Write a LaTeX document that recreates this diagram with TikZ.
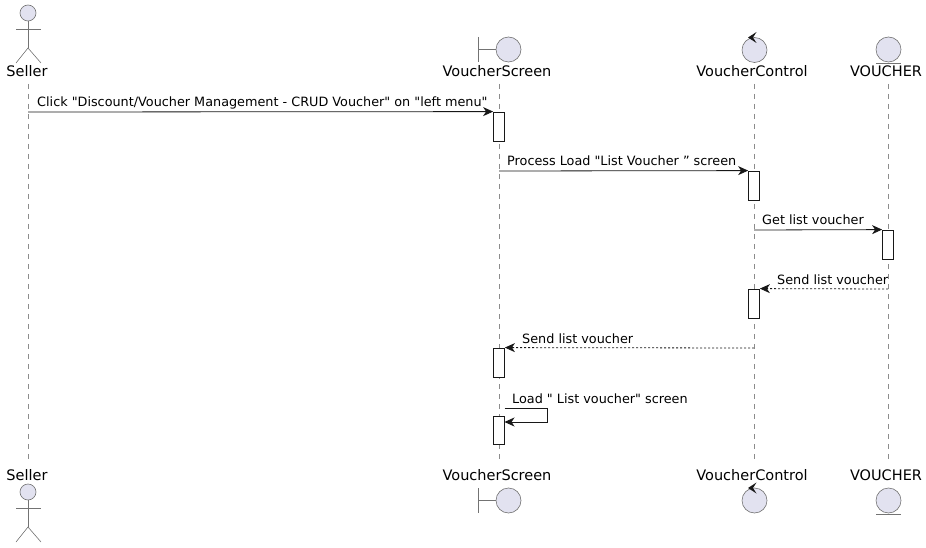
\documentclass[tikz,border=0pt]{standalone}
\usepackage{fontspec}
\newfontfamily\umlfont{DejaVu Sans}
\usetikzlibrary{arrows.meta,positioning}
\definecolor{partfill}{HTML}{E2E2F0}
\definecolor{partline}{HTML}{181818}

\begin{document}
\begin{tikzpicture}[x=1pt,y=-1pt,
    lifeline/.style={draw=gray!90,dash pattern=on 5pt off 5pt,line width=0.5pt},
    figure/.style={draw=gray!90!black,fill=partfill,line width=0.6pt},
    stick/.style={draw=gray!90!black,line width=0.6pt},
    partname/.style={font=\umlfont\fontsize{14.5}{16}\selectfont,inner sep=0pt,anchor=base},
    msglabel/.style={font=\umlfont\fontsize{12.8}{15}\selectfont,inner sep=0pt,anchor=base west},
    activation/.style={draw=partline,fill=white,minimum width=11pt,minimum height=29pt,inner sep=0pt,line width=0.8pt},
    msg/.style={draw=partline,line width=0.8pt,-{Stealth[length=10pt,width=9pt,inset=3pt]}},
    reply/.style={msg,dash pattern=on 2pt off 2pt}]
    \useasboundingbox (0,0) rectangle (926,548);

    % participant names, top and bottom
    \node [partname] (seller) at (27,77) {Seller};
    \node [partname] (screen) at (497,77) {VoucherScreen};
    \node [partname] (control) at (752,77) {VoucherControl};
    \node [partname] (voucher) at (886,77) {VOUCHER};
    \node [partname] (sellerB) at (27,480) {Seller};
    \node [partname] (screenB) at (497,480) {VoucherScreen};
    \node [partname] (controlB) at (752,480) {VoucherControl};
    \node [partname] (voucherB) at (886,480) {VOUCHER};

    % life lines
    \foreach \name/\x in {seller/28,screen/499,control/754,voucher/888} {
        \coordinate (\name Top) at (\x,84);
        \coordinate (\name Bot) at (\x,463);
        \draw [lifeline] (\name Top) -- (\name Bot);
    }

    % actor figures
    \foreach \dy in {0,479} {
        \draw [figure] (28,13+\dy) circle (8);
        \draw [stick] (28,21+\dy) -- (28,48+\dy);
        \draw [stick] (16,29+\dy) -- (41,29+\dy);
        \draw [stick] (16,63+\dy) -- (28,48+\dy) -- (41,63+\dy);
    }

    % boundary figures
    \foreach \cy in {49.5,500.5} {
        \draw [stick] (478,\cy-12.5) -- (478,\cy+12.5);
        \draw [stick] (478,\cy) -- (496,\cy);
        \draw [figure] (508.5,\cy) circle (12.5);
    }

    % control figures
    \foreach \cy in {50,500.5} {
        \draw [figure] (754.5,\cy) circle (12.5);
        \fill [partline] (748,\cy-12.5) -- (756.5,\cy-18) -- (753,\cy-12.5) -- (756.5,\cy-7) -- cycle;
    }

    % entity figures
    \foreach \cy in {49.5,500.5} {
        \draw [figure] (888.5,\cy) circle (12.5);
        \draw [stick] (876,\cy+14) -- (901,\cy+14);
    }

    % activations
    \node [activation] (act1) at (499,126.5) {};
    \node [activation] (act2) at (754,185.5) {};
    \node [activation] (act3) at (888,244.5) {};
    \node [activation] (act4) at (754,303.5) {};
    \node [activation] (act5) at (499,362.5) {};
    \node [activation,minimum height=28pt] (act6) at (499,430) {};

    % messages
    \coordinate (m1s) at (28,112);
    \coordinate (m2s) at (499,171);
    \coordinate (m3s) at (754,230);
    \coordinate (m4s) at (888,289);
    \coordinate (m5s) at (754,348);
    \coordinate (m6s) at (504.5,408);
    \coordinate (m6e) at (504.5,422);

    \draw [msg] (m1s) -- (act1.north west);
    \draw [msg] (m2s) -- (act2.north west);
    \draw [msg] (m3s) -- (act3.north west);
    \draw [reply] (m4s) -- (act4.north east);
    \draw [reply] (m5s) -- (act5.north east);
    \draw [msg] (m6s) -- ++(42.5,0) |- (m6e);

    \node [msglabel] (l1) at (37,107) {Click "Discount/Voucher Management - CRUD Voucher" on "left menu"};
    \node [msglabel] (l2) at (507,166) {Process Load "List Voucher ” screen};
    \node [msglabel] (l3) at (762,225) {Get list voucher};
    \node [msglabel] (l4) at (777,284) {Send list voucher};
    \node [msglabel] (l5) at (522,343) {Send list voucher};
    \node [msglabel] (l6) at (512,403) {Load " List voucher" screen};
\end{tikzpicture}
\end{document}
